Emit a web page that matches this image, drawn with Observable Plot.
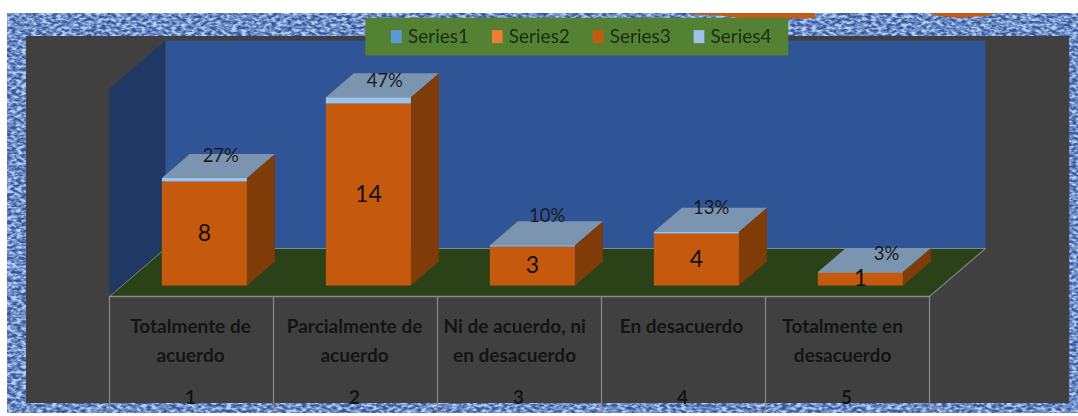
<!DOCTYPE html>
<html><head><meta charset="utf-8">
<script src="https://cdn.jsdelivr.net/npm/d3@7"></script>
<script src="https://cdn.jsdelivr.net/npm/@observablehq/plot@0.6"></script>
<style>
html,body{margin:0;padding:0;background:#fff;width:1078px;height:416px;overflow:hidden}
#wrap{position:relative;width:1078px;height:416px}
#weave{position:absolute;left:7px;top:13px;width:1071px;height:400px}
#chart{position:absolute;left:0;top:0;width:1078px;height:416px}
#chart svg{display:block;background:transparent!important;filter:blur(0.35px)}
</style></head><body>
<div id="wrap">
<svg id="weave" xmlns="http://www.w3.org/2000/svg">
<filter id="tx" x="0" y="0" width="100%" height="100%" color-interpolation-filters="sRGB">
<feTurbulence type="fractalNoise" baseFrequency="0.20 0.36" numOctaves="2" seed="7"/>
<feColorMatrix type="matrix" values="2.6 0 0 0 -0.8  2.6 0 0 0 -0.8  2.6 0 0 0 -0.8  0 0 0 0 1"/>
<feComponentTransfer>
<feFuncR type="table" tableValues="0.22 0.36 0.50 0.72"/>
<feFuncG type="table" tableValues="0.33 0.48 0.63 0.82"/>
<feFuncB type="table" tableValues="0.60 0.72 0.84 0.96"/>
</feComponentTransfer>
<feGaussianBlur stdDeviation="0.4"/>
</filter>
<rect width="100%" height="100%" filter="url(#tx)"/>
</svg>
<div id="chart"></div>
</div>
<script>
const categories = ["Totalmente de\nacuerdo","Parcialmente de\nacuerdo","Ni de acuerdo, ni\nen desacuerdo","En desacuerdo","Totalmente en\ndesacuerdo"];
const tickLabels = ["1","2","3","4","5"];
const counts = [8,14,3,4,1];
const shares = [0.27,0.47,0.10,0.13,0.03];
const shareLabels = ["27%","47%","10%","13%","3%"];
const legendNames = ["Series1","Series2","Series3","Series4"];
const legendColors = ["#5b9bd5","#ed7d31","#c55a11","#9dc3e6"];
const yMax = 16;

// oblique projection of (category position, value, depth 0..1) into scale units
const depthX = 56/164, depthY = 48/13;
const P = (c,v,d=0)=>({x:c+d*depthX, y:v+d*depthY});
const poly = (pts,fill)=>Plot.line([...pts,pts[0]],{x:"x",y:"y",fill,stroke:"none",curve:"linear"});

const barW = 85/164, near = 0.23, far = 0.73;
const marks = [];
const rectU = (x1,x2,y1,y2,fill)=>Plot.rect([{x1,x2,y1,y2}],{x1:"x1",x2:"x2",y1:"y1",y2:"y2",fill,inset:0});

// panel
marks.push(rectU(-0.506,5.855,-8.23,20,"#404040"));
// leftover pieces above the frame
marks.push(poly([{x:3.55,y:21.8},{x:4.30,y:21.8},{x:4.30,y:21.4},{x:3.85,y:21.4},{x:3.70,y:21.65},{x:3.55,y:21.7}],"#c55a11"));
marks.push(poly([{x:4.99,y:21.8},{x:5.41,y:21.8},{x:5.35,y:21.6},{x:5.18,y:21.45},{x:5.05,y:21.6}],"#c55a11"));
// walls and floor
marks.push(poly([P(0,0,0),P(0,yMax,0),P(0,yMax,1),P(0,0,1)],"#1f3864"));
marks.push(poly([P(0,0,1),P(0,yMax,1),P(5,yMax,1),P(5,0,1)],"#2f5597"));
marks.push(poly([P(0,0,0),P(5,0,0),P(5,0,1),P(0,0,1)],"#2b4218"));
marks.push(Plot.line([P(0,0,1),P(5,0,1)],{x:"x",y:"y",stroke:"#7f8a80",strokeWidth:1}));
marks.push(Plot.line([P(5,0,0),P(5,0,1)],{x:"x",y:"y",stroke:"#7f7f7f",strokeWidth:1.2}));
marks.push(Plot.line([P(0,0,0),P(0,0,1)],{x:"x",y:"y",stroke:"#7f7f7f",strokeWidth:1}));
marks.push(Plot.line([P(0,0,0),P(5,0,0)],{x:"x",y:"y",stroke:"#8c8c8c",strokeWidth:1.5}));
// category dividers
marks.push(Plot.ruleX(d3.range(6),{y1:0,y2:-9,stroke:"#8c8c8c",strokeWidth:1.2}));

counts.forEach((v,i)=>{
  const s = shares[i], L = i+(1-barW)/2, R = L+barW, T = v+s;
  marks.push(poly([P(R,0,near),P(R,T,near),P(R,T,far),P(R,0,far)],"#7f3b08"));
  marks.push(poly([P(L,T,near),P(R,T,near),P(R,T,far),P(L,T,far)],"#7b94b0"));
  marks.push(poly([P(L,0,near),P(R,0,near),P(R,v,near),P(L,v,near)],"#c55a0e"));
  marks.push(poly([P(L,v,near),P(R,v,near),P(R,T,near),P(L,T,near)],"#9dc3e6"));
});

// labels
const valRows = counts.map((v,i)=>({...P(i+0.5,v/2,near),t:String(v)}));
marks.push(Plot.text(valRows,{x:"x",y:"y",text:"t",fontSize:23,fill:"#111",fontFamily:"Lato",textAnchor:"middle",lineAnchor:"middle"}));
const pctLift=[1.65,1.25,2.2,1.85,1.4], pctShift=[0.10,0.10,0.09,0.09,0.16];
const pctRows = shares.map((s,i)=>({...P(i+0.5+pctShift[i],counts[i]+s+pctLift[i],near),t:shareLabels[i]}));
marks.push(Plot.text(pctRows,{x:"x",y:"y",text:"t",fontSize:18.5,fill:"#1a1a1a",fontFamily:"Lato",textAnchor:"middle",lineAnchor:"middle"}));
const catShift=[-0.006,-0.006,-0.03,-0.012,-0.03];
marks.push(Plot.text(categories.map((t,i)=>({x:i+0.5+catShift[i],y:-1.24,t})),{x:"x",y:"y",text:"t",fontSize:19,fontWeight:"bold",lineHeight:1.53,fill:"#141414",fontFamily:"Lato",textAnchor:"middle",lineAnchor:"top"}));
marks.push(Plot.text(tickLabels.map((t,i)=>({x:i+0.494,y:-7.8,t})),{x:"x",y:"y",text:"t",fontSize:19,fontWeight:"bold",fill:"#141414",fontFamily:"Lato",textAnchor:"middle",lineAnchor:"middle"}));

// legend
marks.push(rectU(1.563,4.142,21.4,18.5,"#548235"));
const legX=[1.72,2.335,2.95,3.565];
marks.push(Plot.rect(legendNames.map((n,i)=>({x1:legX[i],x2:legX[i]+0.065,y1:20.45,y2:19.45,c:legendColors[i]})),{x1:"x1",x2:"x2",y1:"y1",y2:"y2",fill:"c"}));
marks.push(Plot.text(legendNames.map((n,i)=>({x:legX[i]+0.1,y:19.95,n})),{x:"x",y:"y",text:"n",fontSize:19,fill:"#1a2a12",fontFamily:"Lato",textAnchor:"start",lineAnchor:"middle"}));

const chart = Plot.plot({
  width:1078,height:416,margin:0,
  style:{background:"transparent"},
  x:{type:"linear",domain:[0,5],range:[109,929],axis:null},
  y:{type:"linear",domain:[0,yMax],range:[296,88],axis:null},
  marks
});
document.getElementById("chart").appendChild(chart);
</script>
</body></html>
